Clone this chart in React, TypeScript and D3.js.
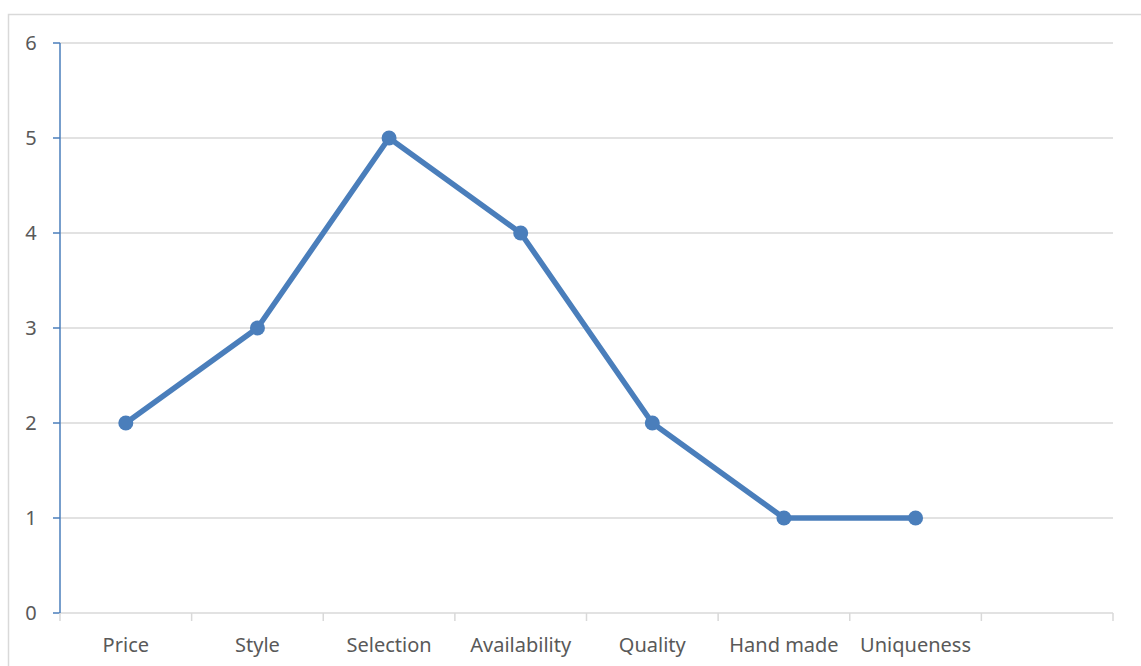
import React from "react";
import * as d3 from "d3";

const categories = ["Price", "Style", "Selection", "Availability", "Quality", "Hand made", "Uniqueness", ""];
const scores = [2, 3, 5, 4, 2, 1, 1];
const yTicks = [0, 1, 2, 3, 4, 5, 6];

const W = 1141;
const H = 666;
const plot = { left: 60, right: 1113, top: 43, bottom: 613 };
const lineColor = "#4a7ebb";
const gridColor = "#d9d9d9";
const textColor = "#595959";
const font = "'Noto Sans', 'Open Sans', sans-serif";
const fontSize = 20;

export default function App() {
  const x = d3
    .scaleBand<string>()
    .domain(categories.map((c, i) => `${i}`))
    .range([plot.left, plot.right])
    .paddingInner(0)
    .paddingOuter(0);
  const y = d3.scaleLinear().domain([0, 6]).range([plot.bottom, plot.top]);

  const cx = (i: number) => (x(`${i}`) as number) + x.bandwidth() / 2;
  const line = d3
    .line<number>()
    .x((_, i) => cx(i))
    .y((d) => y(d));

  const boundaries = d3.range(categories.length + 1).map((i) => plot.left + i * x.bandwidth());

  return (
    <svg
      width={W}
      height={H}
      style={{ position: "absolute", left: 0, top: 0, background: "#fff" }}
    >
      <rect x={8.5} y={14.5} width={1200} height={700} fill="#fff" stroke={gridColor} strokeWidth={1.5} />

      {yTicks.map((t) => (
        <g key={t}>
          {t > 0 && (
            <line x1={plot.left} x2={plot.right} y1={y(t)} y2={y(t)} stroke={gridColor} strokeWidth={1.5} />
          )}
          <line x1={plot.left - 7} x2={plot.left} y1={y(t)} y2={y(t)} stroke={lineColor} strokeWidth={1.5} />
          <text
            x={31}
            y={y(t)}
            dy="0.36em"
            textAnchor="middle"
            fontFamily={font}
            fontSize={fontSize}
            fill={textColor}
          >
            {t}
          </text>
        </g>
      ))}

      {/* category axis */}
      <line x1={plot.left} x2={plot.right} y1={plot.bottom} y2={plot.bottom} stroke={gridColor} strokeWidth={1.5} />
      {boundaries.map((bx, i) => (
        <line key={i} x1={bx} x2={bx} y1={plot.bottom} y2={plot.bottom + 8} stroke={gridColor} strokeWidth={1.5} />
      ))}
      {categories.map((c, i) => (
        <text
          key={i}
          x={cx(i)}
          y={645}
          dy="0.36em"
          textAnchor="middle"
          fontFamily={font}
          fontSize={fontSize}
          fill={textColor}
        >
          {c}
        </text>
      ))}

      {/* value axis */}
      <line x1={plot.left} x2={plot.left} y1={plot.top} y2={plot.bottom} stroke={lineColor} strokeWidth={1.5} />

      <path d={line(scores) ?? ""} fill="none" stroke={lineColor} strokeWidth={5.5} strokeLinejoin="round" strokeLinecap="round" />
      {scores.map((v, i) => (
        <circle key={i} cx={cx(i)} cy={y(v)} r={7.5} fill={lineColor} />
      ))}
    </svg>
  );
}
